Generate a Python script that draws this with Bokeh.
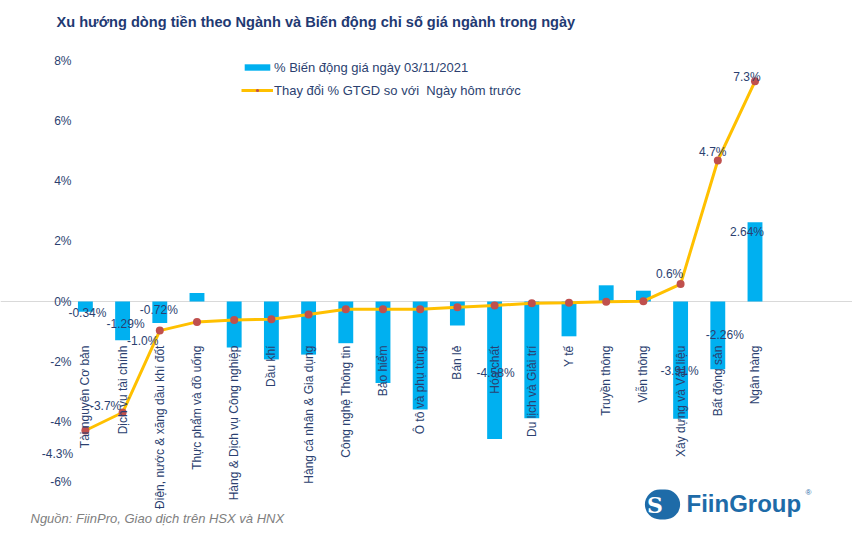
import math
from bokeh.plotting import figure
from bokeh.models import (ColumnDataSource, Range1d, FixedTicker, PrintfTickFormatter,
                          Label, Legend, LegendItem)
from bokeh.embed import file_html
from bokeh.resources import INLINE
from bokeh.core.properties import value

# ---------------- data ----------------
sectors = ["Tài nguyên Cơ bản", "Dịch vụ tài chính", "Điện, nước & xăng dầu khí đốt",
           "Thực phẩm và đồ uống", "Hàng & Dịch vụ Công nghiệp", "Dầu khí",
           "Hàng cá nhân & Gia dụng", "Công nghệ Thông tin", "Bảo hiểm",
           "Ô tô và phụ tùng", "Bán lẻ", "Hóa chất", "Du lịch và Giải trí", "Y tế",
           "Truyền thông", "Viễn thông", "Xây dựng và Vật liệu", "Bất động sản",
           "Ngân hàng"]
price_change = [-0.34, -1.29, -0.72, 0.28, -1.53, -1.93, -1.77, -1.39, -2.72, -3.60,
                -0.80, -4.58, -3.89, -1.16, 0.54, 0.36, -3.91, -2.26, 2.64]
value_change = [-4.30, -3.70, -0.97, -0.68, -0.62, -0.59, -0.43, -0.26, -0.26, -0.26,
                -0.19, -0.13, -0.06, -0.04, -0.01, 0.01, 0.58, 4.70, 7.34]
y_ticks = [-6, -4, -2, 0, 2, 4, 6, 8]

bar_label_idx = [0, 1, 2, 11, 16, 17, 18]
line_label_idx = [0, 1, 2, 16, 17, 18]

# label offsets (screen px, style only)
bar_label_dx = [2, 3, -1, 1, -1, 7, -8]
bar_label_dy = [1, -16, -13, -66, -48, -34, 10]
line_label_dx = [-28, -17, -17, -11, -5, -8]
line_label_dy = [23, -7, 10, -10, -8, -4]

NAVY = "#2B3F70"
BLUE = "#00B0F0"
ORANGE = "#FFC000"
RED = "#C0504D"
LOGO = "#1E6BA8"
FONT = "Liberation Sans"

idx = list(range(len(sectors)))
src = ColumnDataSource(dict(x=idx, bar=price_change, line=value_change, name=sectors,
                            name_y=[-1.47] * len(sectors)))

W, H = 852, 536
p = figure(width=W, height=H, x_range=Range1d(-2.282, 20.621), y_range=Range1d(-7.833, 10.033),
           output_backend="svg", toolbar_location=None,
           min_border_left=0, min_border_right=0, min_border_top=0, min_border_bottom=0)
p.outline_line_color = None
p.background_fill_color = "white"
p.border_fill_color = "white"
p.xgrid.visible = False
p.xaxis.visible = False

# zero line only
p.ygrid.ticker = FixedTicker(ticks=[0])
p.ygrid.bounds = (-0.43, 18.5)
p.ygrid.grid_line_color = "#D9D9D9"
p.ygrid.grid_line_width = 1

ya = p.yaxis[0]
ya.fixed_location = -0.239
ya.ticker = FixedTicker(ticks=y_ticks)
ya.formatter = PrintfTickFormatter(format="%d%%")
ya.axis_line_color = None
ya.major_tick_line_color = None
ya.minor_tick_line_color = None
ya.major_tick_out = 0
ya.major_tick_in = 0
ya.major_label_standoff = 5
ya.major_label_text_font = FONT
ya.major_label_text_font_size = "12px"
ya.major_label_text_color = NAVY

bars = p.vbar(x="x", top="bar", bottom=0, width=0.4, source=src,
              fill_color=BLUE, line_color=None)
line = p.line(x="x", y="line", source=src, line_color=ORANGE, line_width=3)
dots = p.scatter(x="x", y="line", source=src, size=8, fill_color=RED, line_color=None)

# sector labels (rotated)
p.text(x="x", y="name_y", text="name", source=src, angle=math.pi / 2,
       text_align="right", text_baseline="middle", text_font=value(FONT),
       text_font_size="12px", text_color=NAVY)

# bar value labels
bl = ColumnDataSource(dict(
    x=[idx[i] for i in bar_label_idx],
    y=[price_change[i] for i in bar_label_idx],
    t=[f"{price_change[i]:.2f}%" for i in bar_label_idx],
    dx=bar_label_dx, dy=bar_label_dy))
p.text(x="x", y="y", text="t", x_offset="dx", y_offset="dy", source=bl,
       text_align="center", text_baseline="middle", text_font=value(FONT),
       text_font_size="12px", text_color=NAVY)

# line value labels
ll = ColumnDataSource(dict(
    x=[idx[i] for i in line_label_idx],
    y=[value_change[i] for i in line_label_idx],
    t=[f"{value_change[i]:.1f}%" for i in line_label_idx],
    dx=line_label_dx, dy=line_label_dy))
p.text(x="x", y="y", text="t", x_offset="dx", y_offset="dy", source=ll,
       text_align="center", text_baseline="middle", text_font=value(FONT),
       text_font_size="12px", text_color=NAVY)

legend = Legend(items=[
    LegendItem(label="% Biến động giá ngày 03/11/2021", renderers=[bars]),
    LegendItem(label="Thay đổi % GTGD so với  Ngày hôm trước", renderers=[line, dots]),
], location=(241, 438), orientation="vertical")
legend.glyph_width = 32
legend.glyph_height = 8
legend.label_height = 16
legend.spacing = 7
legend.padding = 0
legend.margin = 0
legend.label_standoff = 1
legend.border_line_color = None
legend.background_fill_alpha = 0
legend.label_text_font = FONT
legend.label_text_font_size = "13px"
legend.label_text_color = NAVY
p.add_layout(legend)

# title
p.add_layout(Label(x=56, y=H - 21, x_units="screen", y_units="screen",
                   text="Xu hướng dòng tiền theo Ngành và Biến động chỉ số giá ngành trong ngày",
                   text_font=FONT, text_font_size="14.6px", text_font_style="bold",
                   text_color="#1F3A73", text_baseline="middle"))
# footer
p.add_layout(Label(x=30, y=H - 518, x_units="screen", y_units="screen",
                   text="Nguồn: FiinPro, Giao dịch trên HSX và HNX",
                   text_font=FONT, text_font_size="13px", text_font_style="italic",
                   text_color="#808080", text_baseline="middle"))
# logo
p.add_layout(Label(x=662, y=H - 504, x_units="screen", y_units="screen", text=" S ",
                   text_font="DejaVu Serif", text_font_size="22px", text_font_style="bold",
                   text_color="white", text_align="center", text_baseline="middle",
                   background_fill_color=LOGO, border_radius=18, padding=2))
p.add_layout(Label(x=686, y=H - 503, x_units="screen", y_units="screen", text="FiinGroup",
                   text_font=FONT, text_font_size="24px", text_font_style="bold",
                   text_color=LOGO, text_baseline="middle"))
p.add_layout(Label(x=805, y=H - 492, x_units="screen", y_units="screen", text="®",
                   text_font=FONT, text_font_size="8px",
                   text_color=LOGO, text_baseline="middle"))

open("out.html", "w").write(file_html(p, INLINE))
